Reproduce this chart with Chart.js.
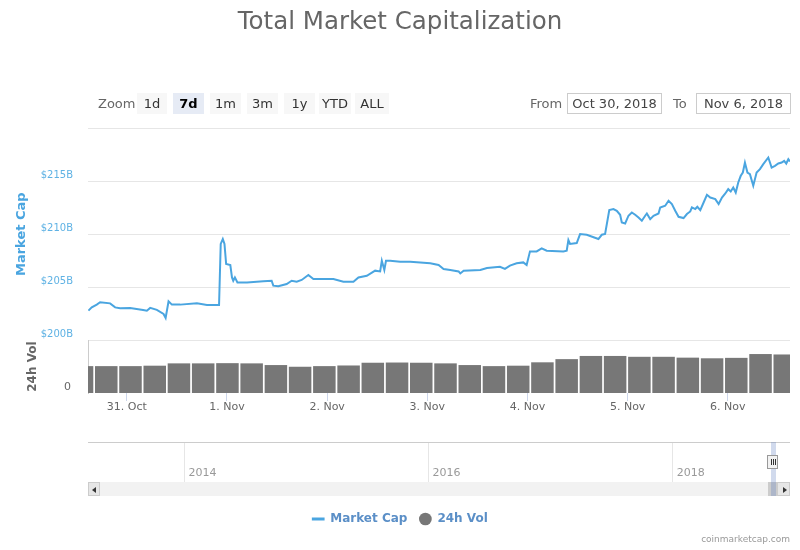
<!DOCTYPE html>
<html>
<head>
<meta charset="utf-8">
<script src="https://cdn.jsdelivr.net/npm/chart.js@4.4.1/dist/chart.umd.min.js"></script>
<style>
  body { margin: 0; background: #fff; font-family: "DejaVu Sans", sans-serif; }
  #wrap { position: relative; width: 800px; height: 550px; overflow: hidden; }
  #mainBox { position: absolute; left: 0; top: 0; width: 800px; height: 550px; }
  #navBox { position: absolute; left: 0; top: 436px; width: 800px; height: 62px; }
  .lbl { position: absolute; top: 93px; height: 21px; line-height: 21px; font-size: 13px; color: #666; }
  .btn { position: absolute; top: 93px; height: 21px; line-height: 21px; font-size: 13px; color: #333;
         background: #f7f7f7; text-align: center; }
  .btn.sel { background: #e6ebf5; color: #000; font-weight: bold; }
  .date { position: absolute; top: 93px; height: 21px; line-height: 19px; font-size: 13px; color: #444;
          border: 1px solid #ccc; box-sizing: border-box; text-align: center; background: #fff; }
  .track { position: absolute; left: 88px; top: 482px; width: 702px; height: 14px; background: #f2f2f2; }
  .sbtn { position: absolute; top: 482px; height: 14px; background: #e6e6e6; border: 1px solid #ccc; box-sizing: border-box; }
  .arrow { position: absolute; top: 4px; width: 0; height: 0; border-top: 3px solid transparent; border-bottom: 3px solid transparent; }
  .thumb { position: absolute; left: 768px; top: 482px; width: 9px; height: 14px; background: #ccc; }
  .mask { position: absolute; left: 771px; top: 442px; width: 5px; height: 54px; background: rgba(102,133,194,0.3); }
  .handle { position: absolute; left: 767px; top: 455px; width: 11px; height: 14px; background: #f2f2f2;
            border: 1px solid #999; box-sizing: border-box; }
  .handle i { position: absolute; top: 3px; width: 1px; height: 6px; background: #333; }
  #credit { position: absolute; right: 10px; top: 534px; font-size: 9px; color: #999; }
</style>
</head>
<body>
<div id="wrap">
  <div id="mainBox"><canvas id="main"></canvas></div>
  <div id="navBox"><canvas id="nav"></canvas></div>

  <div class="lbl" style="left:98px">Zoom</div>
  <div class="btn" style="left:137px;width:30px">1d</div>
  <div class="btn sel" style="left:173px;width:31px">7d</div>
  <div class="btn" style="left:210px;width:31px">1m</div>
  <div class="btn" style="left:247px;width:31px">3m</div>
  <div class="btn" style="left:284px;width:31px">1y</div>
  <div class="btn" style="left:319px;width:32px">YTD</div>
  <div class="btn" style="left:355px;width:34px">ALL</div>

  <div class="lbl" style="left:530px">From</div>
  <div class="date" style="left:567px;width:95px">Oct 30, 2018</div>
  <div class="lbl" style="left:673px">To</div>
  <div class="date" style="left:696px;width:95px">Nov 6, 2018</div>

  <div class="track"></div>
  <div class="sbtn" style="left:88px;width:12px"><span class="arrow" style="left:3px;border-right:4px solid #333"></span></div>
  <div class="thumb"></div>
  <div class="sbtn" style="left:777px;width:13px"><span class="arrow" style="left:5px;border-left:4px solid #333"></span></div>
  <div class="mask"></div>
  <div class="handle"><i style="left:3px"></i><i style="left:5px"></i><i style="left:7px"></i></div>

  <div id="credit">coinmarketcap.com</div>
</div>

<script>
// hours since 30 Oct 2018 00:00
const capHours = [
  14.8, 15.6, 16.8, 17.6, 20.0, 21.2, 22.4, 24.8, 27.9, 28.8,
  29.6, 31.2, 32.8, 33.3, 34.0, 34.8, 36.8, 40.8, 43.2, 46.1,
  46.5, 47.0, 47.4, 47.8, 48.8, 49.2, 49.5, 49.9, 50.5, 52.8,
  56.7, 58.7, 59.1, 60.3, 62.3, 63.5, 64.7, 65.9, 67.5, 68.7,
  73.5, 75.9, 78.3, 79.5, 81.5, 83.5, 84.7, 85.1, 85.7, 86.1,
  87.1, 89.5, 91.9, 96.7, 98.7, 99.9, 101.5, 103.5, 103.9, 104.7,
  108.7, 110.3, 113.4, 114.6, 115.8, 117.4, 119.0, 119.8, 120.6, 122.2,
  123.4, 124.6, 128.6, 129.4, 129.8, 130.2, 131.8, 132.6, 134.2, 137.0,
  137.8, 138.6, 139.6,
  140.6, 141.4, 142.2, 142.6, 143.4, 144.2, 145.0, 145.8, 146.6, 147.4,
  148.2, 148.6, 149.4, 150.2, 151.4, 151.8, 153.0, 153.8, 154.6, 155.4,
  156.2, 157.4, 158.2, 159.0, 159.4, 160.2, 160.7, 161.4, 162.2, 163.0,
  163.8, 165.0, 165.8, 166.6, 167.4, 168.1, 168.7, 169.3, 169.9, 170.5,
  171.1, 171.6, 172.1, 172.7, 173.3, 174.1, 174.9, 175.7, 176.5, 177.7,
  178.5, 179.3, 180.1, 180.9, 181.5, 182.0, 182.5, 182.9
];
// market cap, billions USD
const capValues = [
  202.78, 203.09, 203.35, 203.57, 203.47, 203.09, 203.00, 203.04, 202.85, 202.78,
  203.04, 202.85, 202.47, 202.09, 203.66, 203.35, 203.35, 203.47, 203.32, 203.32,
  209.08, 209.55, 209.08, 207.19, 207.09, 205.92, 205.61, 205.92, 205.45, 205.45,
  205.55, 205.61, 205.14, 205.08, 205.30, 205.61, 205.52, 205.68, 206.15, 205.77,
  205.77, 205.52, 205.52, 205.92, 206.08, 206.56, 206.49, 207.50, 206.62, 207.50,
  207.50, 207.41, 207.41, 207.25, 207.09, 206.72, 206.62, 206.49, 206.30, 206.56,
  206.62, 206.81, 206.93, 206.72, 207.03, 207.25, 207.34, 207.09, 208.38, 208.38,
  208.66, 208.44, 208.38, 208.44, 209.45, 209.08, 209.17, 210.02, 209.95, 209.55,
  209.95, 210.02, 212.28,
  212.38, 212.22, 211.84, 211.11, 211.02, 211.75, 212.06, 211.84, 211.58, 211.27,
  211.75, 211.96, 211.43, 211.75, 211.96, 212.53, 212.69, 213.16, 212.85, 212.22,
  211.65, 211.53, 211.91, 212.15, 212.53, 212.38, 212.59, 212.28, 213.00, 213.73,
  213.47, 213.32, 212.85, 213.47, 213.85, 214.26, 214.04, 214.42, 213.94, 214.89,
  215.52, 215.83, 216.77, 215.83, 215.68, 214.58, 215.83, 216.15, 216.62, 217.25,
  216.30, 216.46, 216.68, 216.77, 216.93, 216.68, 217.09, 216.87
];

const volHours = [
  13.27, 19.08, 24.88, 30.69, 36.49, 42.30, 48.11, 53.91, 59.72, 65.52,
  71.33, 77.14, 82.94, 88.75, 94.55, 100.36, 106.17, 111.97, 117.78, 123.58,
  129.39, 135.20, 141.00, 146.81, 152.61, 158.42, 164.23, 170.03, 175.84, 181.64
];
// 24h volume, billions USD
const volValues = [
  12.7, 12.7, 12.7, 12.9, 14.0, 14.0, 14.1, 14.0, 13.2, 12.4,
  12.7, 13.0, 14.3, 14.4, 14.3, 14.0, 13.2, 12.7, 12.9, 14.5,
  16.0, 17.5, 17.5, 17.1, 17.1, 16.7, 16.4, 16.6, 18.4, 18.2
];

const xMin = 14.7, xMax = 182.9;
const dayTicks = [24, 48, 72, 96, 120, 144, 168];
const dayLabels = ['31. Oct', '1. Nov', '2. Nov', '3. Nov', '4. Nov', '5. Nov', '6. Nov'];
const capTicks = [200, 205, 210, 215, 220];
const capTickLabels = ['$200B', '$205B', '$210B', '$215B', ''];
const volMax = 25;

const navMin = 2013.21, navMax = 2018.96;
const navTicks = [2014, 2016, 2018];
const navLabels = ['2014', '2016', '2018'];

const capColor = '#4aa5e0';
const volColor = '#777777';

Chart.defaults.font.family = '"DejaVu Sans", sans-serif';
Chart.defaults.animation = false;

new Chart(document.getElementById('main'), {
  data: {
    datasets: [
      {
        type: 'line',
        label: 'Market Cap',
        data: capHours.map((h, i) => ({ x: h, y: capValues[i] })),
        yAxisID: 'yCap',
        borderColor: capColor,
        backgroundColor: capColor,
        borderWidth: 2,
        pointRadius: 0,
        pointBorderWidth: 3,
        pointStyle: 'line',
        tension: 0
      },
      {
        type: 'bar',
        label: '24h Vol',
        data: volHours.map((h, i) => ({ x: h, y: volValues[i] })),
        yAxisID: 'yVol',
        backgroundColor: volColor,
        borderWidth: 0,
        barPercentage: 0.93,
        categoryPercentage: 1,
        pointStyle: 'circle'
      }
    ]
  },
  options: {
    responsive: true,
    maintainAspectRatio: false,
    layout: { padding: { left: 10, right: 10, top: 0, bottom: 15 } },
    plugins: {
      title: {
        display: true,
        text: 'Total Market Capitalization',
        color: '#666',
        font: { size: 24.5, weight: 'normal' },
        padding: { top: 8, bottom: 91 }
      },
      legend: {
        position: 'bottom',
        labels: {
          usePointStyle: true,
          boxHeight: 9,
          color: '#5b8fc7',
          font: { size: 12, weight: 'bold' },
          padding: 12
        }
      },
      tooltip: { enabled: false }
    },
    scales: {
      x: {
        type: 'linear',
        offset: false,
        min: xMin,
        max: xMax,
        afterBuildTicks: s => { s.ticks = dayTicks.map(v => ({ value: v })); },
        afterFit: s => { s.height = 108; },
        ticks: {
          callback: (v, i) => dayLabels[i],
          color: '#666',
          font: { size: 11 },
          padding: 0,
          maxRotation: 0,
          autoSkip: false
        },
        grid: { offset: false, drawOnChartArea: false, drawTicks: true, tickLength: 8, color: '#ccd6eb' },
        border: { display: false }
      },
      yVol: {
        type: 'linear',
        position: 'left',
        stack: 'panes',
        stackWeight: 1,
        min: 0,
        max: volMax,
        afterBuildTicks: s => { s.ticks = [{ value: 0 }]; },
        afterFit: s => { s.width = 78; },
        ticks: { color: '#666', font: { size: 11 }, labelOffset: -6, padding: 17 },
        grid: { display: false, drawTicks: false },
        border: { display: true, color: '#ccc' },
        title: {
          display: true,
          text: '24h Vol',
          color: '#666',
          font: { size: 12, weight: 'bold' },
          padding: { top: 16, bottom: 0 }
        }
      },
      yCap: {
        type: 'linear',
        position: 'left',
        stack: 'panes',
        stackWeight: 4,
        min: capTicks[0],
        max: capTicks[capTicks.length - 1],
        afterBuildTicks: s => { s.ticks = capTicks.map(v => ({ value: v })); },
        afterFit: s => { s.width = 78; },
        ticks: {
          callback: (v, i) => capTickLabels[i],
          color: '#5fb2e4',
          font: { size: 10 },
          labelOffset: -6,
          padding: 15
        },
        grid: { color: '#e6e6e6', drawTicks: false },
        border: { display: false },
        title: {
          display: true,
          text: 'Market Cap',
          color: '#4aa5e0',
          font: { size: 13, weight: 'bold' },
          padding: { top: 4, bottom: 0 }
        }
      }
    }
  }
});

// navigator: chart area 442-466, axis box 466-498, tick marks carry the grid down to 482
new Chart(document.getElementById('nav'), {
  type: 'line',
  data: { datasets: [] },
  options: {
    responsive: true,
    maintainAspectRatio: false,
    layout: { padding: { left: 88, right: 10, top: 6, bottom: 0 } },
    plugins: { legend: { display: false }, title: { display: false }, tooltip: { enabled: false } },
    scales: {
      x: {
        type: 'linear',
        min: navMin,
        max: navMax,
        afterBuildTicks: s => { s.ticks = navTicks.map(v => ({ value: v })); },
        afterFit: s => { s.height = 32; },
        ticks: {
          callback: (v, i) => navLabels[i],
          color: '#999',
          font: { size: 11 },
          align: 'start',
          labelOffset: 4,
          padding: -15,
          maxRotation: 0,
          autoSkip: false
        },
        grid: { color: '#e6e6e6', drawTicks: true, tickLength: 16 },
        border: { display: false }
      },
      y: {
        min: 0,
        max: 1,
        afterFit: s => { s.width = 0; },
        ticks: { display: false },
        grid: { drawTicks: false, color: c => c.tick.value === 1 ? '#cccccc' : 'rgba(0,0,0,0)' },
        border: { display: false }
      }
    }
  }
});
</script>
</body>
</html>
